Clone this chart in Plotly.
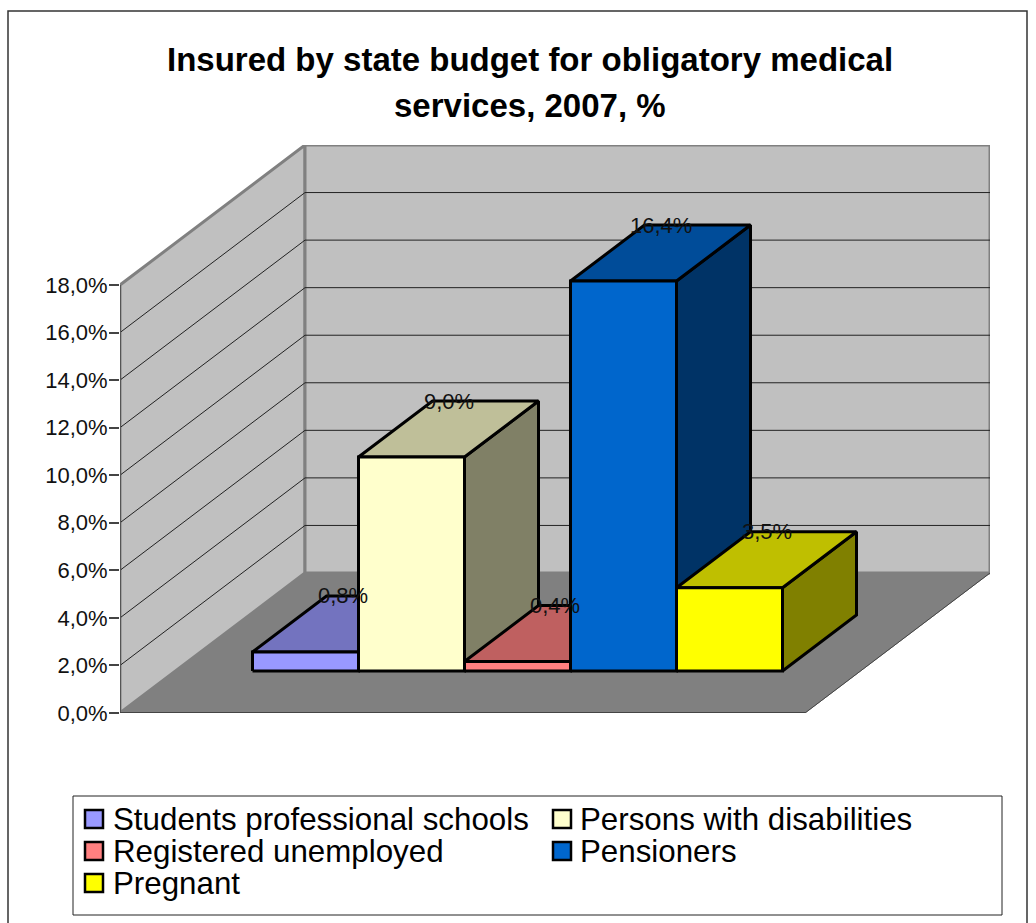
import plotly.graph_objects as go

# Chart content
title_lines = ["Insured by state budget for obligatory medical", "services, 2007, %"]
categories = ["Students professional schools", "Persons with disabilities",
              "Registered unemployed", "Pensioners", "Pregnant"]
values = [0.8, 9.0, 0.4, 16.4, 3.5]
value_labels = ["0,8%", "9,0%", "0,4%", "16,4%", "3,5%"]
front_colors = ["#9999FF", "#FFFFCC", "#FF8080", "#0066CC", "#FFFF00"]
top_colors = ["#7373BF", "#BFBF99", "#BF6060", "#004C99", "#BFBF00"]
side_colors = ["#4D4D80", "#808066", "#804040", "#003366", "#808000"]
tick_values = [0, 2, 4, 6, 8, 10, 12, 14, 16, 18]
tick_labels = ["0,0%", "2,0%", "4,0%", "6,0%", "8,0%", "10,0%", "12,0%", "14,0%", "16,0%", "18,0%"]

# Page geometry, in pixels
WIDTH, HEIGHT = 1036, 923
LEFT, RIGHT_EDGE, TOP, BOTTOM = 120, 990, 145, 713
SLOT_PX = 106.0
PCT_PX = 428 / 18.0

# Oblique projection: one unit of depth moves a point right and up
DEPTH_X = 185 / SLOT_PX
DEPTH_Y = 140 / PCT_PX
FLOOR_START = -77 / SLOT_PX
FLOOR_END = 5 + 78 / SLOT_PX
BAR_NEAR, BAR_FAR = 0.30, 0.70
Y_MAX = 18


def project(x, y, d):
    return x + d * DEPTH_X, y + d * DEPTH_Y


def paper_x(px):
    return (px - LEFT) / (RIGHT_EDGE - LEFT)


def paper_y(py):
    return (BOTTOM - py) / (BOTTOM - TOP)


def polygon(points, fill, line_color, line_width, name=None):
    pts = [project(*p) for p in points]
    pts.append(pts[0])
    return go.Scatter(
        x=[p[0] for p in pts], y=[p[1] for p in pts], mode="lines",
        fill="toself", fillcolor=fill, line=dict(color=line_color, width=line_width),
        hoverinfo="skip", showlegend=False, name=name, cliponaxis=False,
    )


def segment(points, color, width):
    pts = [project(*p) for p in points]
    return go.Scatter(
        x=[p[0] for p in pts], y=[p[1] for p in pts], mode="lines",
        line=dict(color=color, width=width), hoverinfo="skip",
        showlegend=False, cliponaxis=False,
    )


fig = go.Figure()

# Walls and floor
WALL = "#C0C0C0"
EDGE = "#808080"
fig.add_trace(polygon([(FLOOR_START, 0, 0), (FLOOR_END, 0, 0), (FLOOR_END, 0, 1), (FLOOR_START, 0, 1)],
                      "#808080", EDGE, 1))
fig.add_trace(polygon([(FLOOR_START, 0, 0), (FLOOR_START, 0, 1), (FLOOR_START, Y_MAX, 1), (FLOOR_START, Y_MAX, 0)],
                      WALL, EDGE, 3))
fig.add_trace(polygon([(FLOOR_START, 0, 1), (FLOOR_END, 0, 1), (FLOOR_END, Y_MAX, 1), (FLOOR_START, Y_MAX, 1)],
                      WALL, EDGE, 3))

# Gridlines run along the side wall, then across the back wall
for t in tick_values[1:-1]:
    fig.add_trace(segment([(FLOOR_START, t, 0), (FLOOR_START, t, 1), (FLOOR_END, t, 1)], "#222222", 1))

fig.add_trace(segment([(FLOOR_START, 0, 0), (FLOOR_START, Y_MAX, 0)], "#555555", 2))
fig.add_trace(segment([(FLOOR_START, 0, 0), (FLOOR_END, 0, 0)], "#444444", 2))
fig.add_trace(segment([(FLOOR_END, 0, 0), (FLOOR_END, 0, 1)], "#444444", 1))

# Bars, left to right so each one covers the side of the previous one
for i, (cat, v) in enumerate(zip(categories, values)):
    l, r = i, i + 1
    fig.add_trace(polygon([(r, 0, BAR_NEAR), (r, 0, BAR_FAR), (r, v, BAR_FAR), (r, v, BAR_NEAR)],
                          side_colors[i], "#000000", 3, cat))
    fig.add_trace(polygon([(l, v, BAR_NEAR), (r, v, BAR_NEAR), (r, v, BAR_FAR), (l, v, BAR_FAR)],
                          top_colors[i], "#000000", 3, cat))
    fig.add_trace(polygon([(l, 0, BAR_NEAR), (r, 0, BAR_NEAR), (r, v, BAR_NEAR), (l, v, BAR_NEAR)],
                          front_colors[i], "#000000", 3, cat))

annotations = []

# Value labels sit at the rear edge of each bar's top
for i, (v, lab) in enumerate(zip(values, value_labels)):
    cx = i + 0.5 + (BAR_FAR + BAR_NEAR) / 2 * DEPTH_X
    cy = v + BAR_FAR * DEPTH_Y
    annotations.append(dict(x=cx, y=cy, text=lab, showarrow=False, xanchor="center", yanchor="middle",
                            font=dict(family="Liberation Sans", size=22, color="#111111")))

# Title
for text, py in zip(title_lines, [60, 105]):
    annotations.append(dict(xref="paper", yref="paper", x=paper_x(530), y=paper_y(py), text=f"<b>{text}</b>",
                            showarrow=False, xanchor="center", yanchor="middle",
                            font=dict(family="Liberation Sans", size=33, color="#000000")))

# Frame around the chart and the legend box
shapes = [
    dict(type="rect", xref="paper", yref="paper", x0=paper_x(8), x1=paper_x(1027),
         y0=paper_y(935), y1=paper_y(11), line=dict(color="#333333", width=1.5), layer="below"),
    dict(type="rect", xref="paper", yref="paper", x0=paper_x(73), x1=paper_x(1002),
         y0=paper_y(915), y1=paper_y(796), line=dict(color="#222222", width=1), fillcolor="white", layer="below"),
]

# Legend entries: first two rows hold two columns, the last holds one
legend_slots = [(85, 111, 819), (553, 578, 819), (85, 111, 851), (553, 578, 851), (85, 111, 883)]
for (sx, tx, py), cat, col in zip(legend_slots, categories, front_colors):
    shapes.append(dict(type="rect", xref="paper", yref="paper", x0=paper_x(sx), x1=paper_x(sx + 18),
                       y0=paper_y(py + 9), y1=paper_y(py - 9), fillcolor=col,
                       line=dict(color="#000000", width=2.5), layer="above"))
    annotations.append(dict(xref="paper", yref="paper", x=paper_x(tx), y=paper_y(py), text=cat,
                            showarrow=False, xanchor="left", yanchor="middle",
                            font=dict(family="Liberation Sans", size=31.3, color="#000000")))

fig.update_layout(
    width=WIDTH, height=HEIGHT, autosize=False,
    margin=dict(l=LEFT, r=WIDTH - RIGHT_EDGE, t=TOP, b=HEIGHT - BOTTOM, pad=0),
    paper_bgcolor="white", plot_bgcolor="white", showlegend=False,
    xaxis=dict(range=[FLOOR_START, FLOOR_START + (RIGHT_EDGE - LEFT) / SLOT_PX],
               visible=False, fixedrange=True),
    yaxis=dict(range=[0, (BOTTOM - TOP) / PCT_PX], tickvals=tick_values, ticktext=tick_labels,
               ticks="outside", ticklen=10, tickwidth=1.5, tickcolor="#444444",
               showgrid=False, zeroline=False, showline=False, fixedrange=True, ticklabelstandoff=-3,
               tickfont=dict(family="Liberation Sans", size=22, color="#111111")),
    annotations=annotations, shapes=shapes,
)

fig.write_html("out.html", config={"displayModeBar": False})
